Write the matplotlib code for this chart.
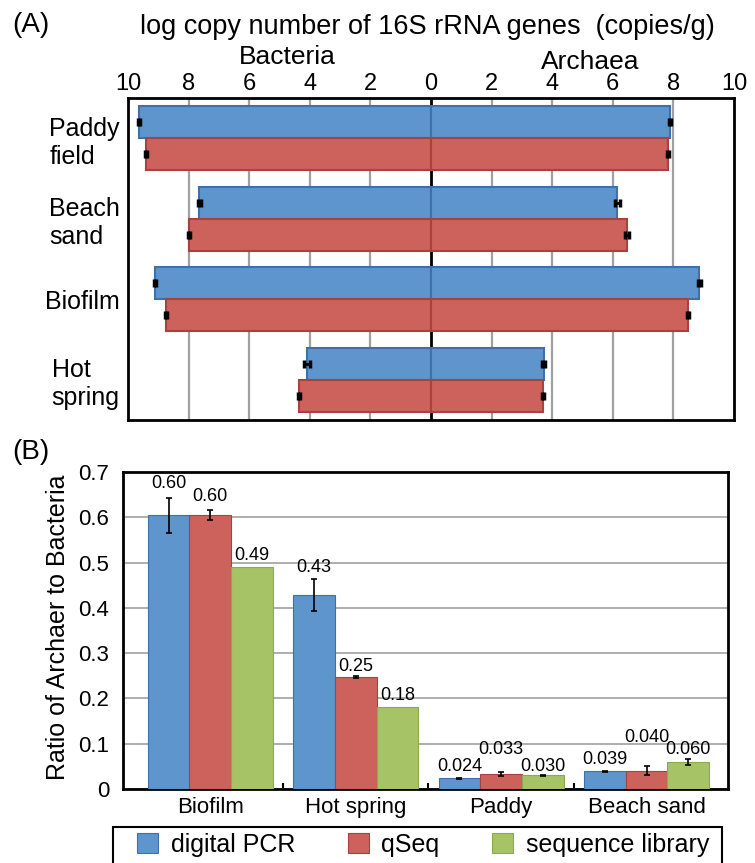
import numpy as np
import matplotlib
matplotlib.use("Agg")
import matplotlib.pyplot as plt
from matplotlib.patches import Rectangle
from matplotlib.ticker import FixedLocator

plt.rcParams["font.family"] = ["Liberation Sans", "DejaVu Sans"]

# === Panel A: log copy number (copies/g) ===
sites_a = ["Paddy\nfield", "Beach\nsand", "Biofilm", "Hot\nspring"]
bact_dpcr = [9.65, 7.65, 9.12, 4.10]
bact_qseq = [9.40, 8.00, 8.75, 4.35]
arch_dpcr = [7.90, 6.15, 8.85, 3.72]
arch_qseq = [7.82, 6.47, 8.49, 3.69]
bact_dpcr_err = [0.03, 0.05, 0.03, 0.10]
bact_qseq_err = [0.03, 0.03, 0.03, 0.04]
arch_dpcr_err = [0.03, 0.08, 0.05, 0.05]
arch_qseq_err = [0.03, 0.06, 0.03, 0.04]
ticks_a = [-10, -8, -6, -4, -2, 0, 2, 4, 6, 8, 10]

# === Panel B: ratio of Archaea to Bacteria ===
sites_b = ["Biofilm", "Hot spring", "Paddy", "Beach sand"]
ratio_dpcr = [0.604, 0.428, 0.024, 0.039]
ratio_qseq = [0.604, 0.248, 0.033, 0.040]
ratio_lib = [0.491, 0.181, 0.030, 0.060]
err_dpcr = [0.039, 0.036, 0.001, 0.001]
err_qseq = [0.011, 0.002, 0.005, 0.010]
err_lib = [0.0, 0.0, 0.002, 0.006]
text_dpcr = ["0.60", "0.43", "0.024", "0.039"]
text_qseq = ["0.60", "0.25", "0.033", "0.040"]
text_lib = ["0.49", "0.18", "0.030", "0.060"]
series_names = ["digital PCR", "qSeq", "sequence library"]

BLUE, BLUE_E = "#5E95CC", "#3F70A8"
RED, RED_E = "#CD625D", "#A8423E"
GREEN, GREEN_E = "#A6C365", "#8CA94E"

W, H = 755, 863
fig = plt.figure(figsize=(W / 100, H / 100), dpi=100)


def fx(px):
    return px / W


def fy(py):
    return 1 - py / H


# ---------- panel A ----------
ax = fig.add_axes([fx(128), fy(420), fx(734) - fx(128), fy(98) - fy(420)])
y = np.arange(len(sites_a))
bh = 0.4
for vals, errs, col, ecol, off, sign in [
    (bact_dpcr, bact_dpcr_err, BLUE, BLUE_E, -bh / 2, -1),
    (arch_dpcr, arch_dpcr_err, BLUE, BLUE_E, -bh / 2, 1),
    (bact_qseq, bact_qseq_err, RED, RED_E, bh / 2, -1),
    (arch_qseq, arch_qseq_err, RED, RED_E, bh / 2, 1),
]:
    v = sign * np.array(vals)
    ax.barh(y + off, v, height=bh, color=col, edgecolor=ecol, linewidth=1.5, zorder=3)
    ax.errorbar(v, y + off, xerr=errs, fmt="none", ecolor="black",
                elinewidth=2, capsize=3, capthick=2.5, zorder=4)

for g in [-8, -6, -4, -2, 2, 4, 6, 8]:
    ax.axvline(g, color="#A0A0A0", lw=1.6, zorder=1)
ax.axvline(0, color="black", lw=2, zorder=1)

ax.set_xlim(-10, 10)
ax.set_ylim(3.5, -0.5)
ax.xaxis.tick_top()
ax.set_xticks(ticks_a)
ax.set_xticklabels([str(abs(t)) for t in ticks_a], fontsize=17)
ax.tick_params(axis="x", length=0, pad=2)
ax.set_yticks(y)
ax.set_yticklabels(sites_a, fontsize=18, ha="right", multialignment="left")
ax.tick_params(axis="y", length=0, pad=6)
for s in ax.spines.values():
    s.set_linewidth(2)

fig.text(fx(12), fy(25), "(A)", fontsize=20, ha="left", va="center")
fig.text(fx(427), fy(27), "log copy number of 16S rRNA genes  (copies/g)",
         fontsize=19.5, ha="center", va="center")
fig.text(fx(287), fy(57), "Bacteria", fontsize=19, ha="center", va="center")
fig.text(fx(590), fy(62), "Archaea", fontsize=19, ha="center", va="center")

# ---------- panel B ----------
ax2 = fig.add_axes([fx(123), fy(789), fx(728) - fx(123), fy(472) - fy(789)])
x = np.arange(len(sites_b))
bw = 0.287
label_offsets = [
    [10, 8, 8, 8],
    [10, 7, 16, 21],
    [8, 8, 6, 7],
]
for i, (vals, errs, texts, col, ecol) in enumerate([
    (ratio_dpcr, err_dpcr, text_dpcr, BLUE, BLUE_E),
    (ratio_qseq, err_qseq, text_qseq, RED, RED_E),
    (ratio_lib, err_lib, text_lib, GREEN, GREEN_E),
]):
    xpos = x + (i - 1) * bw
    vals = np.array(vals)
    errs = np.array(errs)
    ax2.bar(xpos, vals, width=bw, color=col, edgecolor=ecol, linewidth=0.8,
            zorder=3, label=series_names[i])
    has_err = errs > 0
    ax2.errorbar(xpos[has_err], vals[has_err], yerr=errs[has_err], fmt="none",
                 ecolor="black", elinewidth=1.2, capsize=2, capthick=1.2, zorder=4)
    for xp, v, e, t, off in zip(xpos, vals, errs, texts, label_offsets[i]):
        ax2.annotate(t, (xp, v + e), xytext=(0, off), textcoords="offset points",
                     ha="center", va="center", fontsize=13, zorder=5)

ax2.set_xlim(-0.6, 3.56)
ax2.set_ylim(0, 0.7)
ax2.set_yticks(np.arange(0, 0.71, 0.1))
ax2.set_yticklabels(["0", "0.1", "0.2", "0.3", "0.4", "0.5", "0.6", "0.7"], fontsize=16)
ax2.yaxis.grid(True, color="#A8A8A8", lw=1.3, zorder=1)
ax2.set_axisbelow(True)
ax2.tick_params(axis="y", length=0, pad=10)
ax2.set_xticks(x)
ax2.set_xticklabels(sites_b, fontsize=16)
ax2.tick_params(axis="x", which="major", length=0, pad=6)
ax2.xaxis.set_minor_locator(FixedLocator([0.5, 1.5, 2.5]))
ax2.tick_params(axis="x", which="minor", direction="in", length=4, width=1.5)
for s in ax2.spines.values():
    s.set_linewidth(2)

fig.text(fx(58), fy(627), "Ratio of Archaer to Bacteria", fontsize=18,
         rotation=90, ha="center", va="center")
fig.text(fx(12), fy(452), "(B)", fontsize=20, ha="left", va="center")

# legend: frame drawn separately so it can run past the bottom edge
fig.patches.append(Rectangle((fx(113), fy(880)), fx(722) - fx(113), fy(827) - fy(880),
                             transform=fig.transFigure, facecolor="white",
                             edgecolor="black", linewidth=1.5, zorder=0))
fig.legend(loc="upper left", bbox_to_anchor=(fx(137), fy(833)), ncol=3,
           fontsize=18, frameon=False, handlelength=0.85, handleheight=0.85,
           handletextpad=0.5, columnspacing=2.1, borderpad=0, borderaxespad=0)

fig.savefig("out.png", dpi=100)
